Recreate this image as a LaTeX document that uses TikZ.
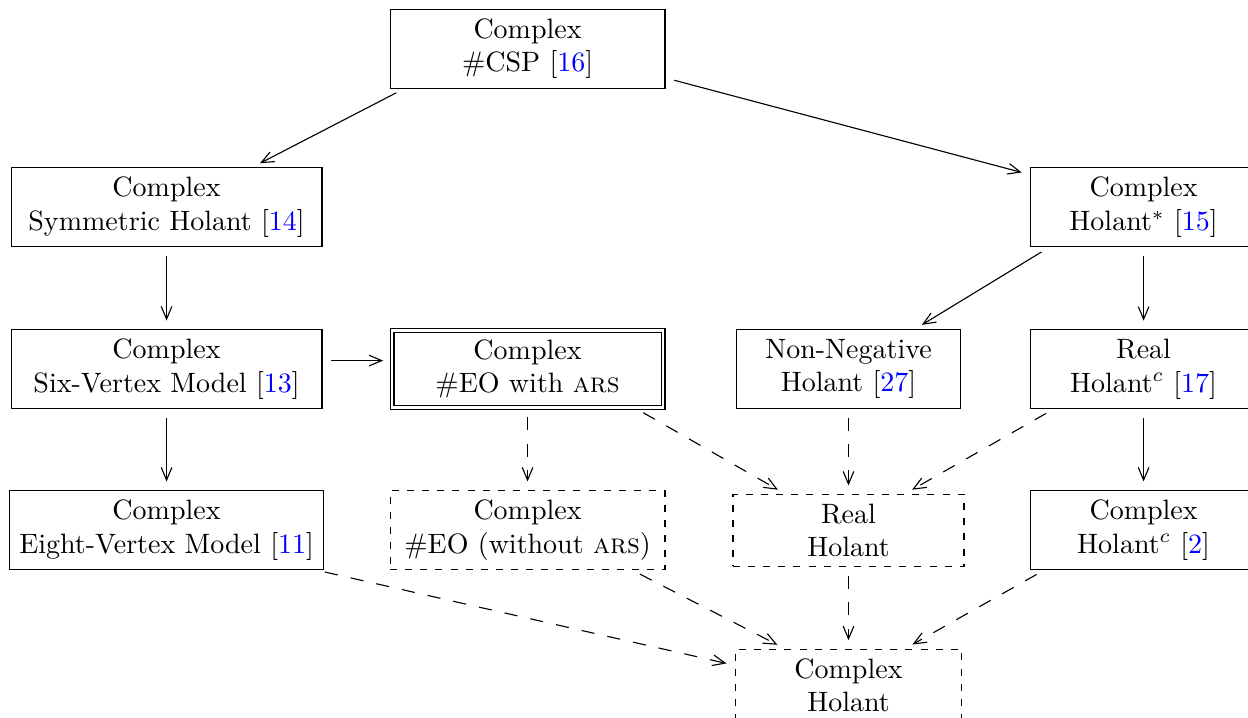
\documentclass[tikz,border=0pt]{standalone}
\usetikzlibrary{arrows.meta}

\newcommand{\refcite}[1]{[\textcolor{blue}{#1}]}

\begin{document}
\begin{tikzpicture}[mybox/.style={rectangle, draw, align=center, anchor=center, minimum width=#1},
  mydbox/.style={mybox=#1, double, double distance=1pt},
  mydashbox/.style={mybox=#1, dash pattern=on 2.5pt off 2.9pt},
  myarrow/.style={-{Straight Barb[length=4.5pt,width=3.8pt]}, shorten <=3.2pt, shorten >=3pt},
  mydasharrow/.style={myarrow, dash pattern=on 4.7pt off 4.7pt}]
\useasboundingbox (0,0) rectangle (15.66,-9.0);

\node [mybox=3.45cm] at (6.62,-0.61)(csp) {Complex\\\#CSP \refcite{16}};
\node [mybox=3.90cm] at (2.09,-2.60)(sym) {Complex\\Symmetric Holant \refcite{14}};
\node [mybox=2.84cm] at (14.35,-2.60)(star) {Complex\\Holant$^*$ \refcite{15}};
\node [mybox=3.90cm] at (2.09,-4.63)(six) {Complex\\Six-Vertex Model \refcite{13}};
\node [mydbox=3.40cm] at (6.62,-4.63)(ars) {Complex\\\#EO with \textsc{ars}};
\node [mybox=2.82cm] at (10.647,-4.63)(nonneg) {Non-Negative\\Holant \refcite{27}};
\node [mybox=2.84cm] at (14.35,-4.63)(realc) {Real\\Holant$^c$ \refcite{17}};
\node [mybox=3.90cm] at (2.09,-6.65)(eight) {Complex\\Eight-Vertex Model \refcite{11}};
\node [mydashbox=3.45cm] at (6.62,-6.65)(woars) {Complex\\\#EO (without \textsc{ars})};
\node [mydashbox=2.90cm] at (10.647,-6.656)(real) {Real\\Holant};
\node [mybox=2.84cm] at (14.35,-6.65)(cplxc) {Complex\\Holant$^c$ \refcite{2}};
\node [mydashbox=2.84cm] at (10.647,-8.60)(holant) {Complex\\Holant};

\draw[myarrow] (csp.198) -- (sym.25);
\draw[myarrow] (csp.-12) -- (star.164);
\draw[myarrow] (sym) -- (six);
\draw[myarrow] (star.203) -- (nonneg.31.5);
\draw[myarrow] (star) -- (realc);
\draw[myarrow] ([yshift=3pt]six.east) -- ([yshift=3pt]ars.west);
\draw[myarrow] (six) -- (eight);
\draw[myarrow] (realc) -- (cplxc);

\draw[mydasharrow] (ars) -- (woars);
\draw[mydasharrow] (ars.-20) -- (real.150);
\draw[mydasharrow] (nonneg) -- (real);
\draw[mydasharrow] (realc.204) -- (real.33);
\draw[mydasharrow] (eight.-15) -- (holant.170);
\draw[mydasharrow] (woars.-21) -- (holant.150);
\draw[mydasharrow] (real) -- (holant);
\draw[mydasharrow] (cplxc.202.5) -- (holant.33);

\end{tikzpicture}
\end{document}
